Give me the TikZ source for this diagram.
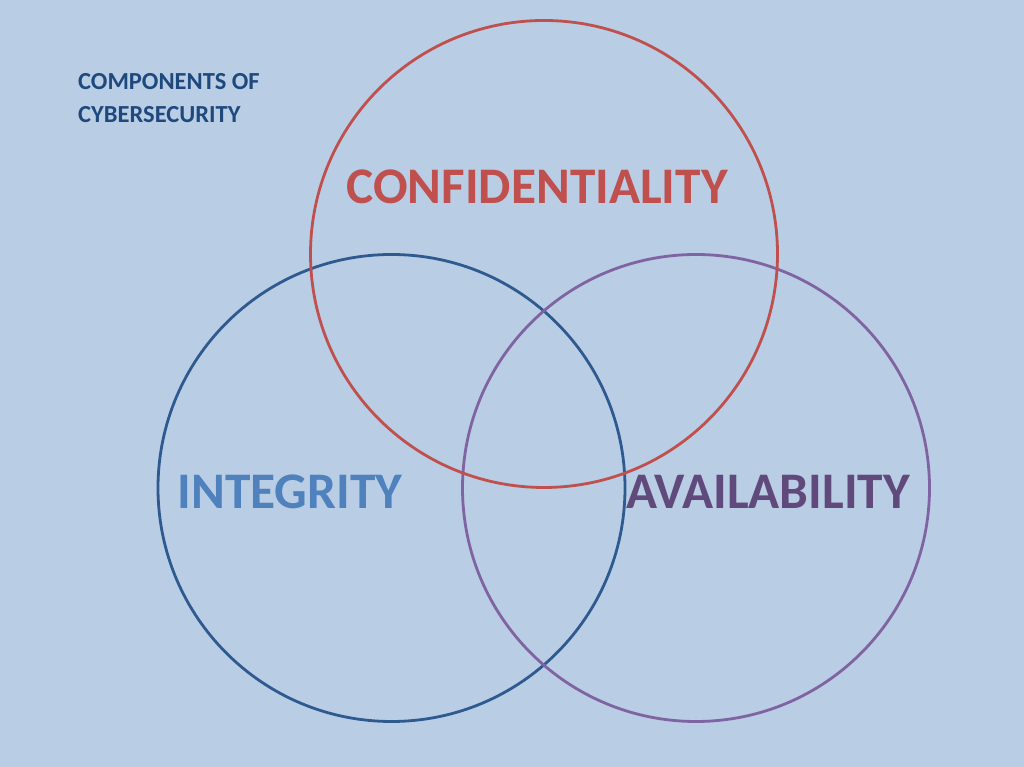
\documentclass[tikz,border=0pt]{standalone}
\usepackage{fontspec}
\setmainfont{Carlito}
\usetikzlibrary{positioning}
\definecolor{PageBlue}{HTML}{B9CDE5}
\definecolor{HeadBlue}{HTML}{1F497D}
\definecolor{ConfRed}{HTML}{C0504D}
\definecolor{IntBlue}{HTML}{4F81BD}
\definecolor{IntRing}{HTML}{2F5A8F}
\definecolor{AvailPurple}{HTML}{604A7B}
\definecolor{AvailRing}{HTML}{8064A2}

\begin{document}
\begin{tikzpicture}[x=1pt,y=1pt,
  ring/.style={circle,draw,line width=2.8pt,minimum size=467pt,inner sep=0pt},
  word/.style={font=\fontsize{51.3}{60}\selectfont\bfseries,inner sep=0pt},
  heading/.style={font=\fontsize{24.5}{33}\selectfont\bfseries,text=HeadBlue,align=left,inner sep=0pt,anchor=north west}]
\fill[PageBlue] (0,0) rectangle (1024,767);
\useasboundingbox (0,0) rectangle (1024,767);
\node[heading] (title) at (78,694) {COMPONENTS OF\\CYBERSECURITY};
\node[ring,draw=IntRing] (integrity) at (391.5,279) {};
\node[ring,draw=AvailRing] (availability) at (696,279) {};
\node[ring,draw=ConfRed] (confidentiality) at (544,513) {};
\node[word,text=ConfRed] (conftext) at (537,580) {CONFIDENTIALITY};
\node[word,text=IntBlue] (inttext) at (290,275) {INTEGRITY};
\node[word,text=AvailPurple] (availtext) at (768,275) {AVAILABILITY};
\end{tikzpicture}
\end{document}
